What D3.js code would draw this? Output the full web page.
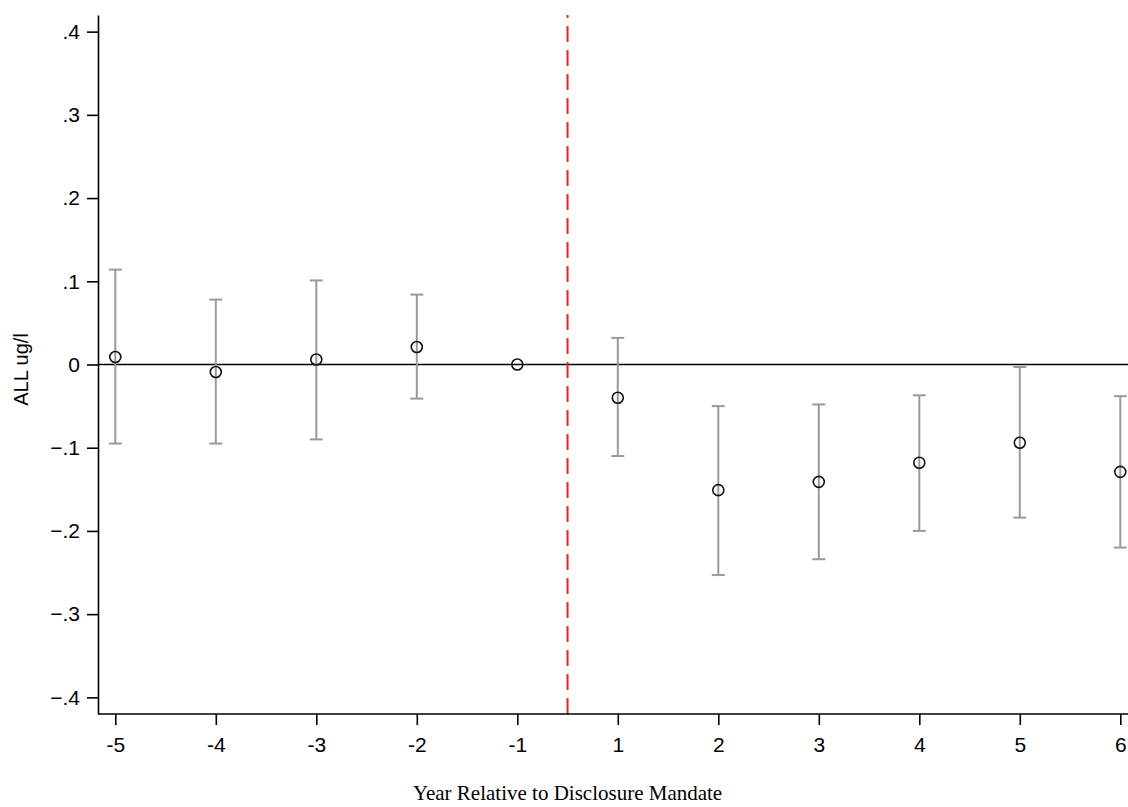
<!DOCTYPE html>
<html>
<head>
<meta charset="utf-8">
<script src="https://cdn.jsdelivr.net/npm/d3@7"></script>
<style>
  body { margin: 0; background: #fff; }
  svg { display: block; }
</style>
</head>
<body>
<svg id="chart" width="1128" height="807"></svg>
<script>
// event-study estimates
const years = ['-5', '-4', '-3', '-2', '-1', '1', '2', '3', '4', '5', '6'];
const coef  = [0.009, -0.009, 0.006, 0.021, 0, -0.040, -0.151, -0.141, -0.118, -0.094, -0.129];
const ciLow = [-0.095, -0.095, -0.090, -0.041, 0, -0.110, -0.253, -0.234, -0.200, -0.184, -0.220];
const ciHigh = [0.114, 0.078, 0.101, 0.084, 0, 0.032, -0.050, -0.048, -0.037, -0.003, -0.038];
const yTicks = [-0.4, -0.3, -0.2, -0.1, 0, 0.1, 0.2, 0.3, 0.4];

const margin = {left: 98, top: 15, right: 0, bottom: 93};
const W = 1128, H = 807;

const svg = d3.select('#chart');

const x = d3.scalePoint()
  .domain(years)
  .range([115.3, 1120.3]);

const y = d3.scaleLinear()
  .domain([-0.42, 0.42])
  .range([H - margin.bottom, margin.top]);

const fmt = d => d === 0 ? '0' : d3.format('.1f')(d).replace('0.', '.');

// zero line
svg.append('line')
  .attr('x1', margin.left).attr('x2', W)
  .attr('y1', y(0)).attr('y2', y(0))
  .attr('stroke', '#000').attr('stroke-width', 1.3);

// error bars
const capW = 6.5;
const bars = svg.append('g')
  .attr('stroke', '#9a9a9a')
  .attr('stroke-width', 2);

years.forEach((yr, i) => {
  if (ciLow[i] === ciHigh[i]) return;
  const cx = x(yr);
  bars.append('line')
    .attr('x1', cx).attr('x2', cx)
    .attr('y1', y(ciHigh[i])).attr('y2', y(ciLow[i]));
  bars.append('line')
    .attr('x1', cx - capW).attr('x2', cx + capW)
    .attr('y1', y(ciHigh[i])).attr('y2', y(ciHigh[i]));
  bars.append('line')
    .attr('x1', cx - capW).attr('x2', cx + capW)
    .attr('y1', y(ciLow[i])).attr('y2', y(ciLow[i]));
});

// reference line between -1 and 1
const refX = (x('-1') + x('1')) / 2;
svg.append('line')
  .attr('x1', refX).attr('x2', refX)
  .attr('y1', y(-0.42)).attr('y2', y(0.42))
  .attr('stroke', '#e8202a')
  .attr('stroke-width', 2)
  .attr('stroke-dasharray', '16,8');

// points
svg.append('g')
  .selectAll('circle')
  .data(years)
  .join('circle')
  .attr('cx', d => x(d))
  .attr('cy', (d, i) => y(coef[i]))
  .attr('r', 5.5)
  .attr('fill', 'none')
  .attr('stroke', '#111')
  .attr('stroke-width', 1.6);

// axes
const yAxis = d3.axisLeft(y)
  .tickValues(yTicks)
  .tickFormat(fmt)
  .tickSize(11)
  .tickPadding(7)
  .tickSizeOuter(0);

const yg = svg.append('g')
  .attr('transform', 'translate(' + margin.left + ',0)')
  .call(yAxis);

const xAxis = d3.axisBottom(x)
  .tickSize(11)
  .tickPadding(12)
  .tickSizeOuter(0);

const xg = svg.append('g')
  .attr('transform', 'translate(0,' + (H - margin.bottom) + ')')
  .call(xAxis);

xg.select('.domain').attr('d', 'M' + margin.left + ',0H' + W);

[yg, xg].forEach(g => {
  g.attr('font-size', null).attr('font-family', null);
  g.selectAll('.domain, .tick line').attr('stroke', '#000').attr('stroke-width', 1.6);
  g.selectAll('text')
    .attr('fill', '#000')
    .attr('font-family', 'Liberation Sans, Arial, sans-serif')
    .attr('font-size', 21);
});

// axis titles
svg.append('text')
  .attr('transform', 'translate(28,' + y(-0.006) + ') rotate(-90)')
  .attr('text-anchor', 'middle')
  .attr('font-family', 'Liberation Sans, Arial, sans-serif')
  .attr('font-size', 20)
  .text('ALL ug/l');

svg.append('text')
  .attr('x', refX)
  .attr('y', 800)
  .attr('text-anchor', 'middle')
  .attr('font-family', 'Liberation Serif, Times New Roman, serif')
  .attr('font-size', 21)
  .text('Year Relative to Disclosure Mandate');
</script>
</body>
</html>
